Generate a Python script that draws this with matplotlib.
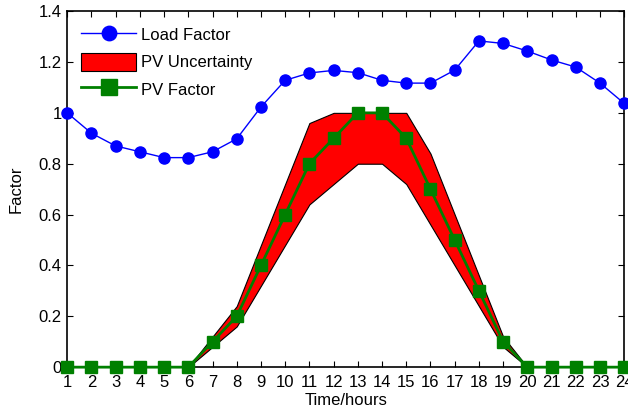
import numpy as np
import matplotlib
matplotlib.use("Agg")
import matplotlib.pyplot as plt
from matplotlib.ticker import FuncFormatter

plt.rcParams['font.family'] = ['Liberation Sans', 'DejaVu Sans']
plt.rcParams['font.size'] = 12

hours = np.arange(1, 25)
load_factor = [1.0, 0.92, 0.87, 0.847, 0.824, 0.824, 0.847, 0.898, 1.023, 1.128,
               1.157, 1.167, 1.158, 1.128, 1.117, 1.117, 1.168, 1.283, 1.273, 1.243,
               1.208, 1.18, 1.117, 1.037]
pv_factor = [0, 0, 0, 0, 0, 0, 0.1, 0.2, 0.4, 0.6, 0.8, 0.9, 1.0, 1.0, 0.9, 0.7,
             0.5, 0.3, 0.1, 0, 0, 0, 0, 0]
pv_upper = [0, 0, 0, 0, 0, 0, 0.12, 0.24, 0.48, 0.72, 0.96, 1.0, 1.0, 1.0, 1.0, 0.84,
            0.6, 0.36, 0.12, 0, 0, 0, 0, 0]
pv_lower = [0, 0, 0, 0, 0, 0, 0.08, 0.16, 0.32, 0.48, 0.64, 0.72, 0.8, 0.8, 0.72, 0.56,
            0.4, 0.24, 0.08, 0, 0, 0, 0, 0]

fig = plt.figure(figsize=(6.28, 4.13), dpi=100)
ax = fig.add_axes([0.107, 0.111, 0.887, 0.862])

ax.plot(hours, load_factor, '-o', color='blue', lw=1, markersize=8,
        label='Load Factor', clip_on=False, zorder=4)
ax.fill_between(hours, pv_lower, pv_upper, facecolor='red', edgecolor='black',
                lw=0.8, label='PV Uncertainty')
ax.plot(hours, pv_factor, '-s', color=(0, 0.5, 0), lw=2, markersize=8.5,
        label='PV Factor', clip_on=False, zorder=5)

ax.set_xlim(1, 24)
ax.set_ylim(0, 1.4)
ax.set_xticks(hours)
ax.set_yticks(np.arange(0, 1.41, 0.2))
ax.yaxis.set_major_formatter(FuncFormatter(lambda v, p: '%g' % round(v, 1)))
ax.tick_params(direction='in', top=True, right=True, length=4, width=0.8, pad=4)
ax.tick_params(axis='x', pad=6)
ax.set_xlabel('Time/hours', labelpad=2)
ax.set_ylabel('Factor', labelpad=11)
for s in ax.spines.values():
    s.set_linewidth(1.2)

ax.legend(loc='upper left', frameon=False, handlelength=3.3, handleheight=1.3,
          borderaxespad=0.45, labelspacing=0.55, handletextpad=0.3, markerscale=1.3)

fig.savefig('out.png', dpi=100)
